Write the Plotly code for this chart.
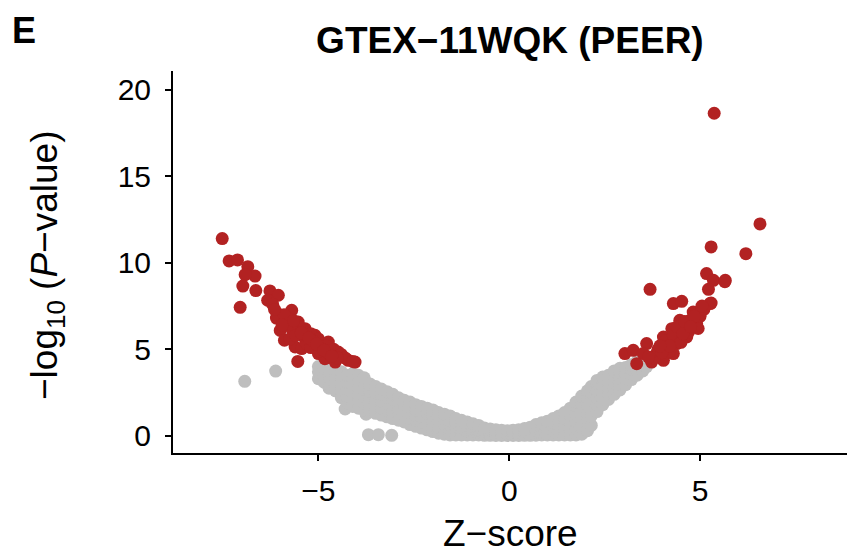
import plotly.graph_objects as go

# significant genes (red)
sig_z = [-7.52, -7.34, -7.12, -6.85, -6.66, -6.92, -6.98, -6.64, -6.27, -6.05,
         -6.33, -7.05, -6.09, -5.70, -5.83, -5.53, -5.35, -6.00, -5.66, -5.89,
         -5.09, -5.35, -5.61, -5.44, -4.91, -4.74, -5.00, -4.65, -4.48, -4.39,
         -4.22, -5.54, -4.83, -4.56, -4.04, -5.80, -5.50, -5.20, -5.00, -4.80,
         -4.60, -4.40, -5.30, -5.70, -6.10, -5.90, -6.20, -4.30, -4.10, -5.20,
         -4.95, -5.75, -5.95, -5.60, -5.40, -5.15, -4.90, -4.70, -4.50, -5.45,
         -5.25, -5.05, -4.85, -4.65, -6.15, -5.65,
         5.37, 6.57, 5.29, 6.20, 5.17, 5.35, 5.66, 5.22, 3.69, 5.29,
         4.30, 4.52, 4.82, 5.04, 4.47, 4.74, 4.91, 4.26, 4.47, 4.04,
         4.65, 3.60, 4.13, 4.39, 3.03, 3.25, 3.51, 3.86, 3.34, 3.73,
         4.04, 4.30, 5.26, 5.65, 3.90, 4.10, 4.30, 4.60, 4.80, 5.00,
         5.10, 4.20, 4.50, 3.80, 4.00, 4.70, 4.40, 4.60, 4.85, 4.95,
         4.20, 3.95, 4.55, 4.75, 5.05, 3.65]
sig_logp = [11.39, 10.10, 10.16, 9.77, 9.23, 9.31, 8.65, 8.39, 8.37, 8.12,
            7.83, 7.42, 7.09, 7.25, 6.57, 6.57, 6.19, 6.09, 6.00, 5.52,
            5.81, 5.62, 5.13, 5.04, 5.33, 5.42, 4.75, 4.94, 4.84, 4.55,
            4.36, 4.30, 4.46, 4.26, 4.26, 6.80, 6.30, 5.90, 5.60, 5.20,
            5.00, 4.70, 5.30, 6.20, 6.80, 7.00, 7.60, 4.50, 4.30, 5.10,
            4.90, 5.60, 6.40, 5.80, 5.90, 5.50, 5.00, 4.70, 4.50, 5.95,
            5.65, 5.30, 4.95, 4.60, 7.30, 6.65,
            18.63, 12.24, 10.91, 10.52, 9.37, 8.98, 8.98, 8.46, 8.46, 7.67,
            7.64, 7.77, 7.15, 7.25, 6.67, 6.67, 6.48, 6.19, 5.90, 5.71,
            5.71, 5.33, 5.13, 5.33, 4.75, 4.94, 4.75, 4.75, 4.17, 4.26,
            4.36, 4.75, 7.64, 8.90, 5.00, 5.50, 5.80, 6.20, 6.50, 6.90,
            7.30, 4.90, 5.40, 4.50, 4.80, 6.00, 6.30, 6.60, 6.90, 6.20,
            5.20, 5.20, 5.90, 6.30, 7.50, 4.55]

# non-significant genes (grey), grouped by Z-score column
ns_cols_z = [-6.93, -6.12, -3.69, -3.43, -3.08, -4.72, -4.30, -3.75,
             -5.0, -4.85, -4.7, -4.55, -4.4, -4.25, -4.1, -3.95, -3.8, -3.65,
             -3.5, -3.35, -3.2, -3.05, -2.9, -2.75, -2.6, -2.45, -2.3, -2.15,
             -2.0, -1.85, -1.7, -1.55, -1.4, -1.25, -1.1, -0.95, -0.8, -0.65,
             -0.5, -0.35, -0.2, -0.05, 0.1, 0.25, 0.4, 0.55, 0.7, 0.85,
             1.0, 1.15, 1.3, 1.45, 1.6, 1.75, 1.9, 2.05, 2.15, 2.3,
             2.45, 2.6, 2.75, 2.9, 3.05, 3.2, 3.35, 3.5, 3.6]
ns_cols_logp = [[3.15], [3.74], [0.07], [0.07], [0.03], [2.75], [1.55], [1.25],
                [3.3, 3.7, 4.0], [3.1, 3.5, 3.9], [2.9, 3.3, 3.7],
                [2.6, 3.0, 3.4, 3.8], [2.2, 2.6, 3.0, 3.4, 3.7],
                [1.9, 2.3, 2.7, 3.1, 3.5], [1.7, 2.1, 2.5, 2.9, 3.3, 3.6],
                [1.6, 2.0, 2.4, 2.8, 3.2, 3.5], [1.5, 1.9, 2.3, 2.7, 3.1, 3.35],
                [1.4, 1.8, 2.2, 2.6, 3.0], [1.3, 1.7, 2.1, 2.5, 2.85],
                [1.2, 1.6, 2.0, 2.4, 2.7], [1.1, 1.5, 1.9, 2.25, 2.55],
                [1.0, 1.4, 1.8, 2.1, 2.4], [0.9, 1.3, 1.6, 1.95, 2.2],
                [0.8, 1.2, 1.5, 1.85, 2.05], [0.65, 1.0, 1.35, 1.7, 1.95],
                [0.55, 0.9, 1.2, 1.55, 1.8], [0.45, 0.8, 1.1, 1.4, 1.7],
                [0.35, 0.7, 1.0, 1.3, 1.6], [0.25, 0.6, 0.9, 1.2, 1.5],
                [0.15, 0.5, 0.8, 1.1, 1.35], [0.1, 0.4, 0.7, 1.0, 1.25],
                [0.05, 0.35, 0.65, 0.9, 1.15], [0.05, 0.3, 0.55, 0.8, 1.0],
                [0.05, 0.3, 0.5, 0.7, 0.9], [0.05, 0.25, 0.45, 0.6, 0.8],
                [0.05, 0.25, 0.4, 0.55, 0.7], [0.05, 0.2, 0.35, 0.5, 0.6],
                [0.03, 0.15, 0.3, 0.45], [0.03, 0.15, 0.25, 0.4],
                [0.02, 0.12, 0.25, 0.35], [0.02, 0.1, 0.2, 0.33],
                [0.02, 0.1, 0.2, 0.3], [0.02, 0.1, 0.2, 0.32],
                [0.02, 0.12, 0.22, 0.35], [0.03, 0.15, 0.28, 0.42],
                [0.03, 0.15, 0.3, 0.5], [0.04, 0.2, 0.35, 0.55, 0.65],
                [0.05, 0.2, 0.4, 0.6, 0.75], [0.05, 0.25, 0.45, 0.65, 0.85],
                [0.05, 0.3, 0.55, 0.8, 1.0], [0.05, 0.3, 0.6, 0.9, 1.15],
                [0.05, 0.35, 0.7, 1.0, 1.35], [0.05, 0.4, 0.8, 1.2, 1.6],
                [0.05, 0.4, 0.85, 1.3, 1.75, 1.95], [0.1, 0.5, 0.95, 1.4, 1.85, 2.3],
                [0.3, 0.9, 1.3, 1.8, 2.2, 2.6], [0.6, 1.15, 1.6, 2.05, 2.5, 2.85],
                [1.4, 1.8, 2.2, 2.6, 3.0, 3.2], [1.8, 2.15, 2.5, 2.85, 3.2, 3.4],
                [2.1, 2.45, 2.8, 3.15, 3.5], [2.4, 2.75, 3.1, 3.45, 3.75],
                [2.65, 3.0, 3.35, 3.7, 3.9], [2.95, 3.3, 3.6, 3.95],
                [3.25, 3.55, 3.85, 4.1], [3.5, 3.8, 4.1, 4.3],
                [3.75, 4.05, 4.35], [4.0, 4.3, 4.5]]

x_ticks = [-5, 0, 5]
y_ticks = [0, 5, 10, 15, 20]

ns_z, ns_logp = [], []
for z, ps in zip(ns_cols_z, ns_cols_logp):
    for p in ps:
        ns_z.append(z)
        ns_logp.append(p)

FONT = "Liberation Sans, Arial, sans-serif"

fig = go.Figure()
fig.add_trace(go.Scatter(x=ns_z, y=ns_logp, mode="markers",
                         marker=dict(color="#BEBEBE", size=13, line=dict(width=0)),
                         showlegend=False, hoverinfo="skip"))
fig.add_trace(go.Scatter(x=sig_z, y=sig_logp, mode="markers",
                         marker=dict(color="#B22222", size=13, line=dict(width=0)),
                         showlegend=False, hoverinfo="skip"))

axis_common = dict(showgrid=False, zeroline=False, showline=True, linecolor="black",
                   linewidth=2, ticks="outside", ticklen=6, tickwidth=2,
                   tickcolor="black", tickfont=dict(family=FONT, size=30, color="black"))

fig.update_layout(
    width=847, height=553,
    margin=dict(l=173, r=0, t=71, b=100),
    plot_bgcolor="white", paper_bgcolor="white",
    font=dict(family=FONT, color="black"),
    title=dict(text="<b>GTEX\u221211WQK (PEER)</b>", x=0.602, xanchor="center",
               y=1 - 40 / 553, yanchor="middle",
               font=dict(family=FONT, size=37, color="black")),
    xaxis=dict(range=[-8.81, 8.85], tickvals=x_ticks,
               ticktext=["\u22125", "0", "5"], ticklabelstandoff=4, **axis_common),
    yaxis=dict(range=[-0.99, 21.07], tickvals=y_ticks, ticklabelstandoff=8,
               **axis_common),
    annotations=[
        dict(text="<b>E</b>", xref="paper", yref="paper", x=0, y=1,
             xanchor="left", yanchor="middle", xshift=-163, yshift=71 - 30,
             showarrow=False, font=dict(family=FONT, size=36, color="black")),
        dict(text="Z\u2212score", xref="paper", yref="paper", x=0.5, y=0,
             xanchor="center", yanchor="middle", yshift=-80, showarrow=False,
             font=dict(family=FONT, size=37, color="black")),
        dict(text="\u2212log<sub>10</sub> (<i>P</i>\u2212value)", xref="paper",
             yref="paper", x=0, y=0.5, xanchor="center", yanchor="middle",
             xshift=-126, yshift=-4, textangle=-90, showarrow=False,
             font=dict(family=FONT, size=37, color="black")),
    ],
)

# drop the browser's default body margin so the figure sits at the page corner
fig.write_html("out.html", config={"displayModeBar": False},
               post_script="document.body.style.margin = '0';")
